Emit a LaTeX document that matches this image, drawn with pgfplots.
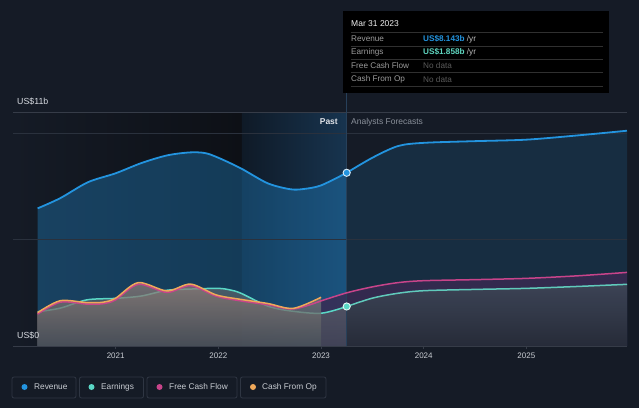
\documentclass[border=0pt]{standalone}
\usepackage{fontspec}
\setmainfont{Liberation Sans}
\usepackage{pgfplots}
\usepackage{pgfplotstable}
\pgfplotsset{compat=1.18}

\definecolor{bg}{HTML}{151B26}
\definecolor{darkL}{HTML}{0D1016}
\definecolor{bandL}{HTML}{0F1A27}
\definecolor{bandR}{HTML}{17344F}
\definecolor{rev}{HTML}{2394DF}
\definecolor{earn}{HTML}{5AD7C6}
\definecolor{fcf}{HTML}{C8448A}
\definecolor{cfo}{HTML}{EFA85A}
\definecolor{gridc}{HTML}{2A313D}
\definecolor{axisc}{HTML}{363C48}
\definecolor{txt}{HTML}{C9CDD3}
\definecolor{lbltxt}{HTML}{D8DCE2}
\definecolor{pasttxt}{HTML}{E0E3E8}
\definecolor{dimtxt}{HTML}{8A909A}
\definecolor{legbox}{HTML}{2F3643}
\definecolor{divc}{HTML}{27405A}
\definecolor{fcffill}{HTML}{3B2A52}
\definecolor{earntop}{HTML}{6B7072}
\definecolor{earnbot}{HTML}{4A4F55}
\definecolor{cfotop}{HTML}{948079}
\definecolor{cfobot}{HTML}{4E5057}
\definecolor{fctop}{HTML}{3D4556}
\definecolor{fcbot}{HTML}{262C38}
\definecolor{tipsep}{HTML}{303030}
\definecolor{tiphead}{HTML}{F0F0F0}
\definecolor{tiplbl}{HTML}{9B9B9B}
\definecolor{tipnone}{HTML}{5A5A5A}
\definecolor{tipyr}{HTML}{BDBDBD}
\definecolor{tipearn}{HTML}{5FD6C0}

% revenue, US$ b
\pgfplotstableread{
x y
2020.24 6.47
2020.46 6.95
2020.73 7.70
2021.00 8.12
2021.25 8.60
2021.50 8.96
2021.72 9.10
2021.87 9.07
2022.00 8.85
2022.22 8.35
2022.48 7.65
2022.70 7.37
2022.83 7.38
2023.00 7.55
2023.25 8.143
}\revpast
\pgfplotstableread{
x y
2023.25 8.143
2023.50 8.85
2023.75 9.40
2024.00 9.55
2024.50 9.63
2025.00 9.70
2025.50 9.90
2025.98 10.12
}\revfc

% earnings
\pgfplotstableread{
x y
2020.24 1.61
2020.46 1.78
2020.72 2.17
2021.00 2.24
2021.25 2.35
2021.50 2.62
2021.75 2.68
2022.00 2.71
2022.12 2.63
2022.22 2.48
2022.48 1.88
2022.70 1.65
2023.00 1.54
2023.25 1.858
}\earnpast
\pgfplotstableread{
x y
2023.25 1.858
2023.50 2.25
2023.75 2.48
2024.00 2.60
2024.50 2.66
2025.00 2.71
2025.50 2.80
2025.98 2.90
}\earnfc

% cash from operations
\pgfplotstableread{
x y
2020.24 1.57
2020.46 2.13
2020.72 2.04
2020.88 2.06
2021.00 2.25
2021.22 2.98
2021.50 2.59
2021.73 2.91
2021.98 2.40
2022.22 2.19
2022.48 2.00
2022.73 1.77
2023.00 2.29
}\cfopast

% free cash flow
\pgfplotstableread{
x y
2020.24 1.50
2020.46 2.06
2020.72 1.97
2020.88 1.99
2021.00 2.17
2021.22 2.90
2021.50 2.52
2021.73 2.84
2021.98 2.34
2022.22 2.12
2022.48 1.94
2022.73 1.74
2023.00 2.12
}\fcfpast
\pgfplotstableread{
x y
2023.00 2.12
2023.25 2.50
2023.50 2.78
2023.75 2.98
2024.00 3.07
2024.50 3.12
2025.00 3.18
2025.50 3.30
2025.98 3.46
}\fcffc

\begin{document}
\begin{tikzpicture}
\fill[bg] (0pt,0pt) rectangle (639pt,408pt);

\begin{axis}[
    at={(13pt,62pt)}, anchor=south west,
    scale only axis, width=614pt, height=234pt,
    xmin=2020, xmax=2025.98, ymin=0, ymax=11,
    axis line style={draw=none},
    ytick=\empty,
    xtick={2021,2022,2023,2024,2025},
    xtick pos=bottom, tick align=outside,
    major tick length=3pt,
    tick style={draw=axisc, line width=0.6pt},
    /pgf/number format/assume math mode=true,
    xticklabel style={font=\fontsize{8}{9}\selectfont, text=txt,
        /pgf/number format/1000 sep={}},
    clip=false,
]
% backgrounds
\fill[left color=bg, right color=darkL] (axis cs:2020,0) rectangle (axis cs:2022.23,11);
\fill[left color=bandL, right color=bandR] (axis cs:2022.23,0) rectangle (axis cs:2023.25,11);

% area fills
\addplot[draw=none, fill=rev, fill opacity=0.33, smooth] table[x=x,y=y] {\revpast} \closedcycle;
\addplot[draw=none, fill=rev, fill opacity=0.15, smooth] table[x=x,y=y] {\revfc} \closedcycle;
\addplot[draw=none, fill=fcffill, fill opacity=0.8, smooth] table[x=x,y=y] {\fcffc} \closedcycle;
\addplot[draw=none, top color=earntop, bottom color=earnbot, fill opacity=0.6, smooth] table[x=x,y=y] {\earnpast} \closedcycle;
\addplot[draw=none, top color=fctop, bottom color=fcbot, fill opacity=0.95, smooth] table[x=x,y=y] {\earnfc} \closedcycle;

% grid
\draw[gridc, line width=0.7pt] (axis cs:2020,5) -- (axis cs:2025.98,5);
\draw[gridc, line width=0.7pt] (axis cs:2020,10) -- (axis cs:2025.98,10);
\draw[axisc, line width=0.7pt] (axis cs:2020,11) -- (axis cs:2025.98,11);
\draw[axisc, line width=0.8pt] (axis cs:2020,0) -- (axis cs:2025.98,0);
% divider at the latest reported date
\draw[divc, line width=0.8pt] (axis cs:2023.25,0) -- (axis cs:2023.25,11.9);

% lines
\addplot[rev, line width=1.8pt, smooth] table[x=x,y=y] {\revpast};
\addplot[rev, line width=1.8pt, smooth] table[x=x,y=y] {\revfc};
\addplot[earn, line width=1.5pt, smooth] table[x=x,y=y] {\earnpast};
\addplot[earn!85!gray, line width=1.5pt, smooth] table[x=x,y=y] {\earnfc};
% cash from op area sits over the earnings line
\addplot[draw=none, top color=cfotop, bottom color=cfobot, fill opacity=0.72, smooth] table[x=x,y=y] {\cfopast} \closedcycle;
\addplot[fcf, line width=1.5pt, smooth] table[x=x,y=y] {\fcfpast};
\addplot[fcf, line width=1.5pt, smooth] table[x=x,y=y] {\fcffc};
\addplot[cfo, line width=1.5pt, smooth] table[x=x,y=y] {\cfopast};

% current point markers
\addplot[only marks, mark=*, mark size=3.6pt, mark options={fill=rev, draw=white!85!rev, line width=0.9pt}] coordinates {(2023.25,8.143)};
\addplot[only marks, mark=*, mark size=3.6pt, mark options={fill=earn, draw=white!85!earn, line width=0.9pt}] coordinates {(2023.25,1.858)};
\end{axis}

\begin{scope}[x=1pt, y=1pt]
% axis texts
\node[anchor=west, text=lbltxt, font=\fontsize{8.8}{10}\selectfont, inner sep=0] at (17,306) {US\$11b};
\node[anchor=west, text=lbltxt, font=\fontsize{8.8}{10}\selectfont, inner sep=0] at (17,72) {US\$0};
\node[anchor=east, text=pasttxt, font=\bfseries\fontsize{8.5}{10}\selectfont, inner sep=0] at (338,286) {Past};
\node[anchor=west, text=dimtxt, font=\fontsize{8.5}{10}\selectfont, inner sep=0] at (351,286) {Analysts Forecasts};

% tooltip
\fill[black] (343,397) rectangle (609,315);
\node[anchor=west, text=tiphead, font=\fontsize{8.5}{10}\selectfont, inner sep=0] at (351,384) {Mar 31 2023};
\foreach \yy in {375.7,362,348.7,335.3,322} {
  \draw[tipsep, line width=0.6pt] (351,\yy) -- (603,\yy);
}
\begin{scope}[every node/.style={anchor=west, inner sep=0, font=\fontsize{8.2}{9}\selectfont}]
\node[text=tiplbl] at (351,369) {Revenue};
\node[text=tiplbl] at (351,355.3) {Earnings};
\node[text=tiplbl] at (351,342) {Free Cash Flow};
\node[text=tiplbl] at (351,328.6) {Cash From Op};
\node at (423,369) {\textcolor{rev}{\bfseries US\$8.143b} \textcolor{tipyr}{/yr}};
\node at (423,355.3) {\textcolor{tipearn}{\bfseries US\$1.858b} \textcolor{tipyr}{/yr}};
\node[text=tipnone] at (423,342) {No data};
\node[text=tipnone] at (423,328.6) {No data};
\end{scope}

% legend
\begin{scope}[every node/.style={anchor=west, inner sep=0, text=txt, font=\fontsize{8.3}{9}\selectfont}]
\draw[legbox, line width=0.8pt, rounded corners=2pt] (12,31) rectangle (76,10);
\fill[rev] (24.5,21) circle (3);
\node at (34,21) {Revenue};
\draw[legbox, line width=0.8pt, rounded corners=2pt] (79.5,31) rectangle (143.5,10);
\fill[earn] (91.5,21) circle (3);
\node at (101,21) {Earnings};
\draw[legbox, line width=0.8pt, rounded corners=2pt] (147,31) rectangle (237,10);
\fill[fcf] (159.5,21) circle (3);
\node at (169,21) {Free Cash Flow};
\draw[legbox, line width=0.8pt, rounded corners=2pt] (240.5,31) rectangle (326,10);
\fill[cfo] (253,21) circle (3);
\node at (262,21) {Cash From Op};
\end{scope}
\end{scope}
\end{tikzpicture}
\end{document}
